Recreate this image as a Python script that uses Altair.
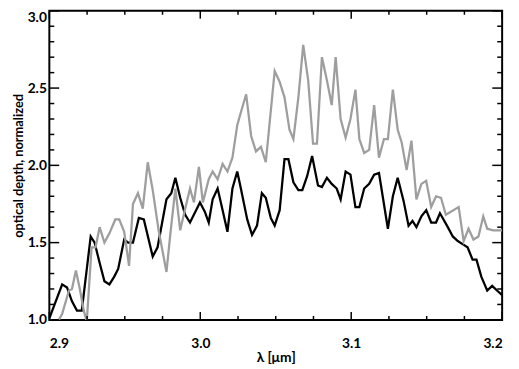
import altair as alt
import pandas as pd

# wavelength (micron) and normalized optical depth, black series
black_x = [2.9000, 2.9085, 2.9117, 2.9150, 2.9183, 2.9215, 2.9274, 2.9300, 2.9333, 2.9365,
           2.9398, 2.9430, 2.9456, 2.9496, 2.9522, 2.9554, 2.9593, 2.9626, 2.9685, 2.9717,
           2.9776, 2.9808, 2.9835, 2.9867, 2.9900, 2.9932, 2.9998, 3.0030, 3.0056, 3.0082,
           3.0115, 3.0148, 3.0180, 3.0213, 3.0245, 3.0271, 3.0311, 3.0343, 3.0376, 3.0408,
           3.0434, 3.0467, 3.0493, 3.0526, 3.0558, 3.0584, 3.0617, 3.0650, 3.0676, 3.0708,
           3.0741, 3.0780, 3.0806, 3.0839, 3.0871, 3.0904, 3.0930, 3.0963, 3.0995, 3.1028,
           3.1054, 3.1086, 3.1119, 3.1152, 3.1184, 3.1243, 3.1276, 3.1308, 3.1347, 3.1380,
           3.1406, 3.1432, 3.1465, 3.1497, 3.1530, 3.1562, 3.1588, 3.1640, 3.1673, 3.1706,
           3.1738, 3.1771, 3.1804, 3.1830, 3.1862, 3.1888, 3.1901, 3.1934, 3.1966, 3.2000]
black_y = [1.01, 1.23, 1.21, 1.12, 1.06, 1.06, 1.54, 1.50, 1.37, 1.25,
           1.23, 1.28, 1.33, 1.52, 1.50, 1.50, 1.66, 1.65, 1.41, 1.47,
           1.78, 1.82, 1.92, 1.79, 1.68, 1.63, 1.76, 1.70, 1.63, 1.78,
           1.85, 1.71, 1.57, 1.85, 1.96, 1.84, 1.65, 1.55, 1.61, 1.82,
           1.79, 1.66, 1.61, 1.71, 2.04, 2.04, 1.89, 1.84, 1.84, 1.93,
           2.06, 1.87, 1.86, 1.92, 1.88, 1.85, 1.78, 1.96, 1.94, 1.73,
           1.73, 1.85, 1.88, 1.94, 1.95, 1.59, 1.80, 1.92, 1.77, 1.61,
           1.64, 1.60, 1.67, 1.71, 1.63, 1.63, 1.69, 1.60, 1.54, 1.51,
           1.49, 1.47, 1.39, 1.39, 1.28, 1.22, 1.19, 1.22, 1.19, 1.16]

# grey series
gray_x = [2.9000, 2.9052, 2.9085, 2.9130, 2.9150, 2.9176, 2.9202, 2.9228, 2.9248, 2.9280,
          2.9306, 2.9333, 2.9365, 2.9398, 2.9437, 2.9463, 2.9496, 2.9528, 2.9554, 2.9587,
          2.9619, 2.9652, 2.9685, 2.9724, 2.9776, 2.9802, 2.9835, 2.9867, 2.9900, 2.9932,
          2.9958, 2.9991, 3.0017, 3.0056, 3.0082, 3.0115, 3.0148, 3.0180, 3.0213, 3.0245,
          3.0271, 3.0304, 3.0337, 3.0369, 3.0402, 3.0434, 3.0493, 3.0526, 3.0558, 3.0591,
          3.0617, 3.0650, 3.0682, 3.0715, 3.0747, 3.0773, 3.0806, 3.0839, 3.0871, 3.0897,
          3.0930, 3.0963, 3.0995, 3.1028, 3.1054, 3.1086, 3.1119, 3.1152, 3.1184, 3.1217,
          3.1243, 3.1276, 3.1308, 3.1334, 3.1367, 3.1399, 3.1432, 3.1465, 3.1497, 3.1530,
          3.1562, 3.1595, 3.1627, 3.1712, 3.1745, 3.1777, 3.1810, 3.1843, 3.1875, 3.1901,
          3.1940, 3.1973, 3.2000]
gray_y = [1.00, 0.98, 1.04, 1.19, 1.20, 1.32, 1.20, 1.06, 0.99, 1.47,
          1.47, 1.60, 1.50, 1.56, 1.65, 1.65, 1.57, 1.35, 1.75, 1.82,
          1.72, 2.02, 1.84, 1.58, 1.31, 1.56, 1.85, 1.58, 1.72, 1.85,
          1.76, 1.99, 1.76, 1.91, 1.96, 1.91, 2.01, 1.96, 2.05, 2.26,
          2.35, 2.46, 2.19, 2.09, 2.12, 2.02, 2.61, 2.54, 2.44, 2.23,
          2.17, 2.44, 2.78, 2.55, 2.14, 2.14, 2.70, 2.55, 2.39, 2.70,
          2.30, 2.18, 2.30, 2.49, 2.17, 2.08, 2.10, 2.39, 2.05, 2.17,
          2.17, 2.49, 2.23, 2.15, 1.97, 2.16, 1.78, 1.88, 1.90, 1.73,
          1.80, 1.79, 1.68, 1.73, 1.51, 1.59, 1.52, 1.54, 1.67, 1.59,
          1.58, 1.58, 1.58]

x_major = [2.9, 3.0, 3.1, 3.2]
x_minor = [2.925, 2.95, 2.975, 3.025, 3.05, 3.075, 3.125, 3.15, 3.175]
y_major = [1.0, 1.5, 2.0, 2.5, 3.0]
y_minor = [1.1, 1.2, 1.3, 1.4, 1.6, 1.7, 1.8, 1.9, 2.1, 2.2, 2.3, 2.4, 2.6, 2.7, 2.8, 2.9]

W, H = 460, 314
FONT = "Lato"

xs = alt.Scale(domain=[2.9, 3.2], nice=False, zero=False)
ys = alt.Scale(domain=[1.0, 3.0], nice=False, zero=False)

black_df = pd.DataFrame({"x": black_x, "y": black_y})
gray_df = pd.DataFrame({"x": gray_x, "y": gray_y})

x_axis = alt.Axis(values=x_major, format=".1f", ticks=False, domain=False, grid=False,
                  labelFont=FONT, labelFontSize=14, labelFontWeight="bold", labelColor="black",
                  labelPadding=17, title="λ [μm]", titleFont=FONT, titleFontSize=14,
                  titleFontWeight="bold", titleColor="black", titlePadding=0)
y_axis = alt.Axis(values=y_major, format=".1f", ticks=False, domain=False, grid=False,
                  labelFont=FONT, labelFontSize=14, labelFontWeight="bold", labelColor="black",
                  labelPadding=3, labelBaseline=alt.expr("datum.value >= 3 ? 'top' : 'middle'"),
                  title="optical depth, normalized", titleFont=FONT,
                  titleFontSize=13, titleFontWeight="bold", titleColor="black", titlePadding=2)

black_line = alt.Chart(black_df).mark_line(color="black", strokeWidth=2.3, clip=True).encode(
    x=alt.X("x:Q", scale=xs, axis=x_axis),
    y=alt.Y("y:Q", scale=ys, axis=y_axis),
)
gray_line = alt.Chart(gray_df).mark_line(color="#9e9e9e", strokeWidth=2.3, clip=True).encode(
    x=alt.X("x:Q", scale=xs, axis=x_axis),
    y=alt.Y("y:Q", scale=ys, axis=y_axis),
)


def xticks(vals, length):
    d = pd.DataFrame({"x": vals})
    bottom = alt.Chart(d).mark_rule(color="black", strokeWidth=1.5).encode(
        x=alt.X("x:Q", scale=xs, axis=x_axis), y=alt.value(H), y2=alt.value(H - length))
    top = alt.Chart(d).mark_rule(color="black", strokeWidth=1.5).encode(
        x=alt.X("x:Q", scale=xs, axis=x_axis), y=alt.value(0), y2=alt.value(length))
    return [bottom, top]


def yticks(vals, length):
    d = pd.DataFrame({"y": vals})
    left = alt.Chart(d).mark_rule(color="black", strokeWidth=1.5).encode(
        y=alt.Y("y:Q", scale=ys, axis=y_axis), x=alt.value(0), x2=alt.value(length))
    right = alt.Chart(d).mark_rule(color="black", strokeWidth=1.5).encode(
        y=alt.Y("y:Q", scale=ys, axis=y_axis), x=alt.value(W), x2=alt.value(W - length))
    return [left, right]


layers = [black_line, gray_line] + xticks(x_major, 8) + xticks(x_minor, 4) \
    + yticks(y_major, 10) + yticks(y_minor, 5)

chart = alt.layer(*layers).properties(
    width=W, height=H,
    autosize=alt.AutoSizeParams(type="none"),
    padding={"left": 42, "top": 0, "right": 9, "bottom": 45},
).configure_view(stroke="black", strokeWidth=2)

chart.save("out.html", embed_options={"renderer": "svg", "actions": False})
